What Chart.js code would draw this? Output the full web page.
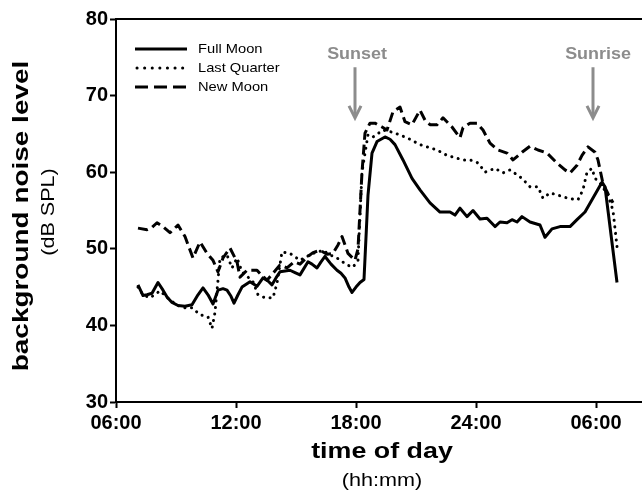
<!DOCTYPE html>
<html>
<head>
<meta charset="utf-8">
<script src="https://cdn.jsdelivr.net/npm/chart.js@4/dist/chart.umd.min.js"></script>
<style>
  html, body { margin: 0; padding: 0; background: #fff; }
  #wrap { width: 642px; height: 492px; position: relative; }
</style>
</head>
<body>
<div id="wrap"><canvas id="c" width="642" height="492"></canvas></div>
<script>
// ---- data (time in hours since midnight of day 1; >24 = next day) ----
const seriesNames = ['Full Moon', 'Last Quarter', 'New Moon'];

const fullMoonTime = [7.10,7.35,7.55,7.80,8.10,8.35,8.55,8.80,9.10,9.45,9.80,10.10,10.35,10.60,10.85,11.10,11.35,11.55,11.75,11.90,12.10,12.30,12.70,13.05,13.35,13.60,13.80,14.00,14.20,14.70,14.95,15.20,15.60,15.80,16.05,16.25,16.45,16.75,17.05,17.25,17.45,17.65,17.80,18.00,18.20,18.40,18.60,18.80,19.05,19.45,19.70,19.95,20.35,20.80,21.20,21.70,22.20,22.70,22.95,23.20,23.55,23.85,24.20,24.55,24.95,25.20,25.55,25.80,26.05,26.30,26.70,27.20,27.45,27.80,28.20,28.70,29.05,29.45,29.80,30.30,30.45,31.05];
const fullMoonLevel = [45.3,43.9,44.0,44.2,45.6,44.6,43.7,43.0,42.6,42.5,42.7,44.0,44.9,44.0,42.8,44.6,44.8,44.6,43.8,42.9,44.0,45.0,45.7,45.1,46.2,45.8,45.3,46.2,47.0,47.2,46.9,46.6,48.3,48.0,47.5,48.3,49.0,48.0,47.2,46.8,46.2,45.0,44.3,45.0,45.6,46.0,57.0,62.5,64.0,64.6,64.3,63.6,61.6,59.2,57.7,56.0,54.8,54.8,54.4,55.3,54.2,55.0,53.9,54.0,52.9,53.5,53.4,53.8,53.5,54.2,53.5,53.1,51.5,52.6,52.9,52.9,53.8,54.8,56.4,58.7,58.1,45.6];

const lastQuarterTime = [7.10,7.35,7.70,8.20,8.70,9.10,9.45,9.80,10.20,10.60,10.80,10.95,11.10,11.20,11.55,11.80,12.05,12.30,12.60,12.85,13.10,13.45,13.85,14.05,14.30,14.70,15.20,15.55,15.85,16.35,16.70,17.05,17.55,17.85,18.10,18.30,18.60,18.85,19.35,19.85,20.55,21.20,22.05,22.55,23.35,23.70,24.05,24.20,24.45,24.95,25.35,25.70,26.30,26.70,27.10,27.35,27.70,28.10,28.60,29.10,29.35,29.55,29.80,29.95,30.20,30.60,30.85,31.05];
const lastQuarterLevel = [45.0,44.0,43.6,44.5,43.3,42.6,42.3,42.3,41.4,41.1,39.6,41.7,45.9,48.8,49.2,47.5,48.8,47.0,46.3,45.7,44.0,43.6,43.6,45.5,49.6,49.4,48.5,49.0,49.4,49.8,49.2,48.8,47.9,47.6,48.5,60.0,64.9,64.6,65.5,65.2,64.5,63.6,62.9,62.2,61.6,61.6,61.3,60.9,60.0,60.5,59.9,60.3,59.2,58.1,58.1,56.6,57.3,57.0,56.6,56.4,57.7,60.0,60.5,59.2,58.6,57.0,55.0,50.3];

const newMoonTime = [7.10,7.55,7.80,8.05,8.35,8.70,8.90,9.10,9.45,9.85,10.20,10.55,10.85,11.10,11.35,11.70,12.05,12.20,12.55,13.05,13.30,13.55,13.85,14.20,14.55,14.90,15.20,15.55,15.85,16.20,16.55,16.85,17.10,17.30,17.60,17.95,18.10,18.30,18.45,18.70,18.95,19.30,19.55,19.85,20.20,20.45,20.80,21.20,21.45,21.70,22.05,22.35,22.80,23.20,23.35,23.70,24.05,24.35,24.70,25.10,25.55,25.85,26.30,26.70,27.10,27.55,28.05,28.45,28.70,29.05,29.30,29.60,29.95,30.10,30.35,30.60,30.85];
const newMoonLevel = [52.7,52.5,52.8,53.4,52.9,52.1,52.6,53.1,51.6,48.8,50.9,49.4,48.5,47.0,48.8,50.1,48.3,46.3,47.2,47.2,46.5,45.9,46.8,47.9,47.5,48.3,48.0,48.9,49.5,49.8,49.3,49.4,50.5,51.6,49.4,48.5,50.0,60.0,65.1,66.4,66.4,65.9,65.5,67.9,68.5,66.6,66.2,68.1,66.8,66.2,66.2,67.1,65.9,64.5,65.8,66.4,66.4,65.5,63.8,62.9,62.5,61.6,62.6,63.4,62.9,62.5,61.2,60.3,59.9,60.9,62.2,63.3,62.6,61.6,58.5,57.2,56.0];

const xTickValues = [6, 12, 18, 24, 30];
const xTickLabels = ['06:00', '12:00', '18:00', '24:00', '06:00'];
const yTickValues = [30, 40, 50, 60, 70, 80];

const sunsetTime = 17.95, sunriseTime = 29.85;
const eventLabels = ['Sunset', 'Sunrise'];

// ---- helpers ----
const zip = (xs, ys) => xs.map((x, i) => ({ x: x, y: ys[i] }));
const FONT = '"Liberation Sans", Arial, sans-serif';

function stretchedText(ctx, text, x, y, font, sx, rotate, align) {
  ctx.save();
  ctx.translate(x, y);
  if (rotate) ctx.rotate(-Math.PI / 2);
  ctx.scale(sx, 1);
  ctx.font = font;
  ctx.textAlign = align || 'center';
  ctx.textBaseline = 'middle';
  ctx.fillText(text, 0, 0);
  ctx.restore();
}

const styles = [
  { borderDash: [], borderCapStyle: 'butt', borderWidth: 3 },
  { borderDash: [0.1, 6.5], borderCapStyle: 'round', borderWidth: 3 },
  { borderDash: [10, 5], borderCapStyle: 'butt', borderWidth: 3 }
];

const annot = {
  id: 'annot',
  afterDraw(chart) {
    const { ctx, chartArea: ca, scales: { x, y } } = chart;
    ctx.save();
    // top frame line
    ctx.strokeStyle = '#000';
    ctx.lineWidth = 2;
    ctx.beginPath();
    ctx.moveTo(ca.left - 1, ca.top);
    ctx.lineTo(chart.width, ca.top);
    ctx.stroke();

    // sunset / sunrise arrows
    const grey = '#8c8c8c';
    [[sunsetTime, eventLabels[0], 2], [sunriseTime, eventLabels[1], 5]].forEach(([t, lbl, dx]) => {
      const ax = Math.round(x.getPixelForValue(t));
      const top = y.getPixelForValue(73.7);
      const tip = y.getPixelForValue(67.1);
      ctx.strokeStyle = grey;
      ctx.lineWidth = 3;
      ctx.lineCap = 'butt';
      ctx.beginPath();
      ctx.moveTo(ax, top);
      ctx.lineTo(ax, tip - 2);
      ctx.stroke();
      ctx.lineJoin = 'miter';
      ctx.beginPath();
      ctx.moveTo(ax - 6, tip - 12);
      ctx.lineTo(ax, tip);
      ctx.lineTo(ax + 6, tip - 12);
      ctx.stroke();
      ctx.fillStyle = grey;
      stretchedText(ctx, lbl, ax + dx, y.getPixelForValue(75.35), 'bold 16px ' + FONT, 1.12, false);
    });

    // legend
    const lx0 = 135, lx1 = 187, ly = [49, 68, 87];
    seriesNames.forEach((name, i) => {
      ctx.strokeStyle = '#000';
      ctx.lineWidth = 3;
      ctx.setLineDash(i === 1 ? [0.1, 7.5] : (i === 2 ? [13, 6] : []));
      ctx.lineCap = i === 1 ? 'round' : 'butt';
      ctx.beginPath();
      ctx.moveTo(lx0 + (i === 1 ? 2 : 0), ly[i]);
      ctx.lineTo(lx1, ly[i]);
      ctx.stroke();
      ctx.setLineDash([]);
      ctx.fillStyle = '#000';
      stretchedText(ctx, name, 198, ly[i], '13px ' + FONT, 1.13, false, 'left');
    });

    // axis titles
    ctx.fillStyle = '#000';
    stretchedText(ctx, 'background noise level', 22, 216, 'bold 22px ' + FONT, 1.27, true);
    stretchedText(ctx, '(dB SPL)', 49, 212, '18px ' + FONT, 1.2, true);
    stretchedText(ctx, 'time of day', 382, 452, 'bold 22px ' + FONT, 1.22, false);
    stretchedText(ctx, '(hh:mm)', 382, 481, '18px ' + FONT, 1.2, false);
    ctx.restore();
  }
};

const datasets = [
  { label: seriesNames[0], data: zip(fullMoonTime, fullMoonLevel) },
  { label: seriesNames[1], data: zip(lastQuarterTime, lastQuarterLevel) },
  { label: seriesNames[2], data: zip(newMoonTime, newMoonLevel) }
].map((d, i) => Object.assign(d, styles[i], {
  borderColor: '#000',
  backgroundColor: '#000',
  pointRadius: 0,
  tension: 0,
  fill: false,
  borderJoinStyle: 'round'
}));

new Chart(document.getElementById('c'), {
  type: 'line',
  data: { datasets: datasets },
  options: {
    responsive: false,
    animation: false,
    events: [],
    layout: { padding: { top: 19, right: 0, left: 0, bottom: 0 } },
    plugins: { legend: { display: false }, tooltip: { enabled: false }, title: { display: false } },
    scales: {
      x: {
        type: 'linear',
        min: 6,
        max: 32.3,
        afterFit: (s) => { s.height = 90; },
        afterBuildTicks: (s) => { s.ticks = xTickValues.map(v => ({ value: v })); },
        border: { display: true, color: '#000', width: 2 },
        grid: { display: true, drawOnChartArea: false, drawTicks: true, tickLength: 6, color: '#000', tickWidth: 2 },
        ticks: {
          color: '#000',
          padding: 3,
          maxRotation: 0,
          autoSkip: false,
          font: { family: FONT, size: 20, weight: 'bold' },
          callback: (v) => { const i = xTickValues.indexOf(v); return i >= 0 ? xTickLabels[i] : ''; }
        }
      },
      y: {
        type: 'linear',
        min: 30,
        max: 80,
        afterFit: (s) => { s.width = 116; },
        afterBuildTicks: (s) => { s.ticks = yTickValues.map(v => ({ value: v })); },
        border: { display: true, color: '#000', width: 2 },
        grid: { display: true, drawOnChartArea: false, drawTicks: true, tickLength: 6, color: '#000', tickWidth: 2 },
        ticks: {
          color: '#000',
          padding: 2,
          font: { family: FONT, size: 20, weight: 'bold' },
          callback: (v) => String(v)
        }
      }
    }
  },
  plugins: [annot]
});
</script>
</body>
</html>
